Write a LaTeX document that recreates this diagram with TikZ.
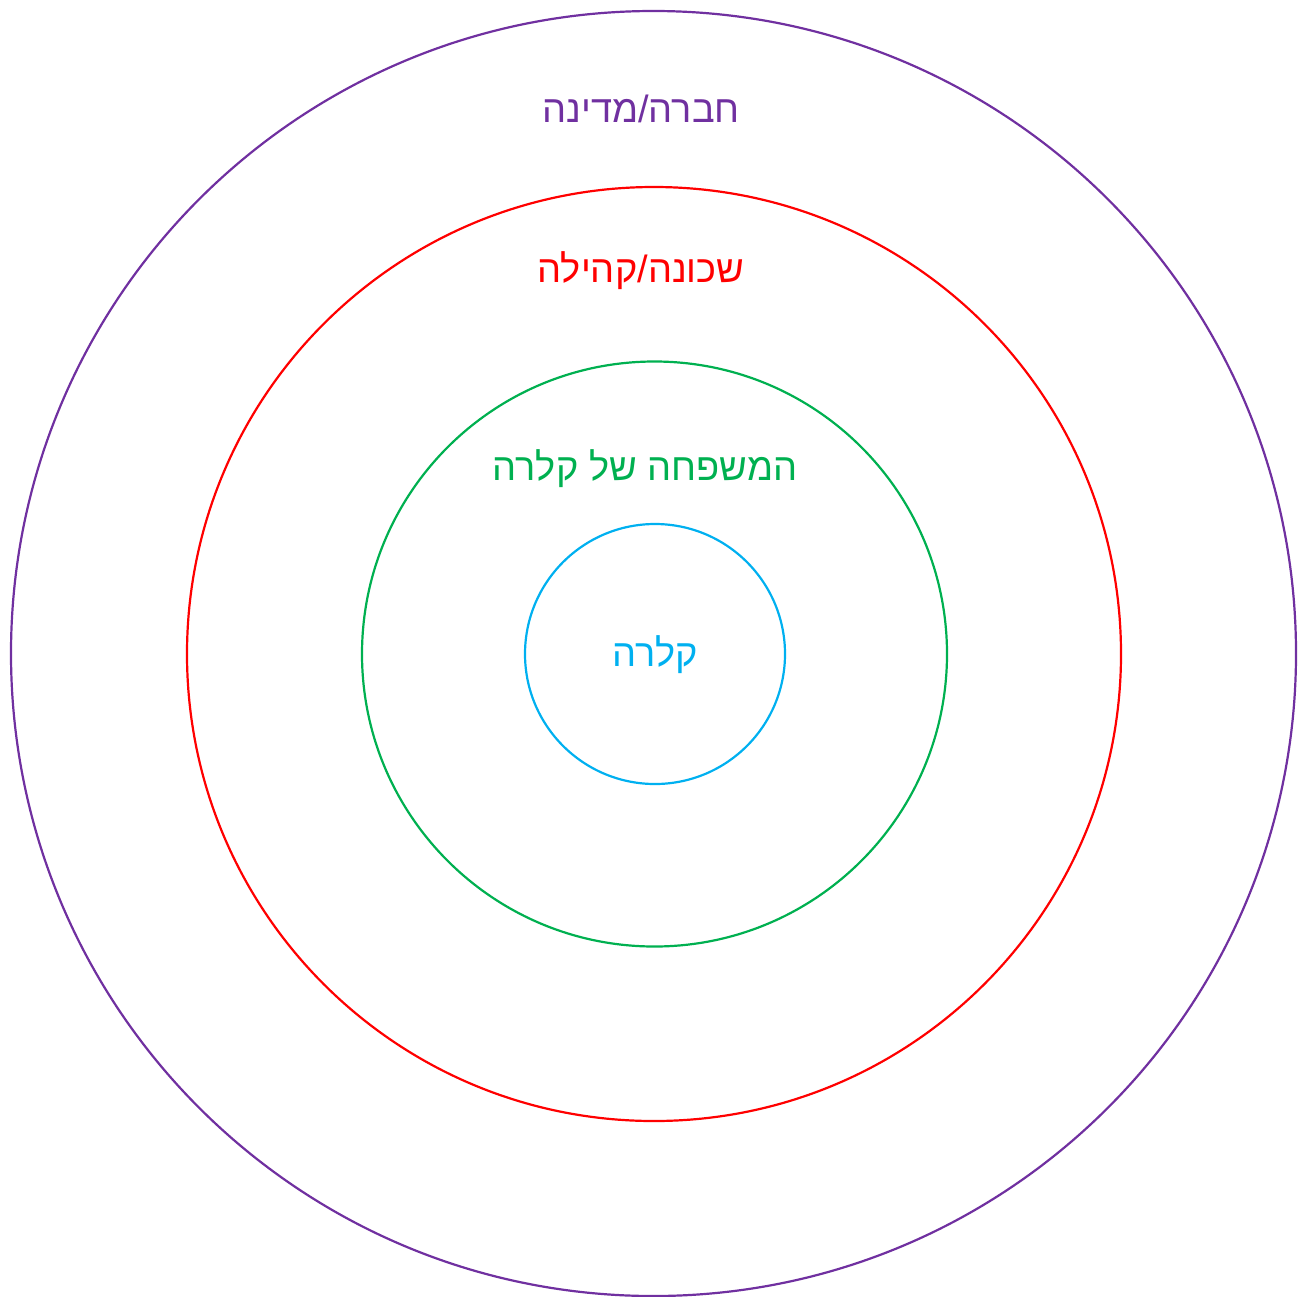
\documentclass[tikz,border=0pt]{standalone}
\usepackage{fontspec}
\TeXXeTstate=1
\newfontfamily\hebfont[Script=Hebrew]{Liberation Sans}
\definecolor{cpurple}{HTML}{7030A0}
\definecolor{cred}{HTML}{FF0000}
\definecolor{cgreen}{HTML}{00B050}
\definecolor{cblue}{HTML}{00B0F0}
\tikzset{
  ring/.style={circle, draw=#1, line width=2.2pt, inner sep=0pt, outer sep=0pt},
  lbl/.style={text=#1, font=\hebfont\fontsize{38}{42}\selectfont, inner sep=0pt}
}
\begin{document}
\begin{tikzpicture}[x=1pt,y=-1pt]
\useasboundingbox (0,0) rectangle (1308,1296);
\node[ring=cpurple, minimum size=1285pt] (society) at (653.5,653.5) {};
\node[ring=cred, minimum size=934pt] (community) at (654,654) {};
\node[ring=cgreen, minimum size=585pt] (family) at (654.5,654) {};
\node[ring=cblue, minimum size=260pt] (clara) at (655,654) {};
\node[lbl=cpurple] (tsociety) at (641,109) {\beginR חברה/מדינה\endR};
\node[lbl=cred] (tcommunity) at (641,271) {\beginR שכונה/קהילה\endR};
\node[lbl=cgreen] (tfamily) at (645,469) {\beginR המשפחה של קלרה\endR};
\node[lbl=cblue] (tclara) at (655,655) {\beginR קלרה\endR};
\end{tikzpicture}
\end{document}
